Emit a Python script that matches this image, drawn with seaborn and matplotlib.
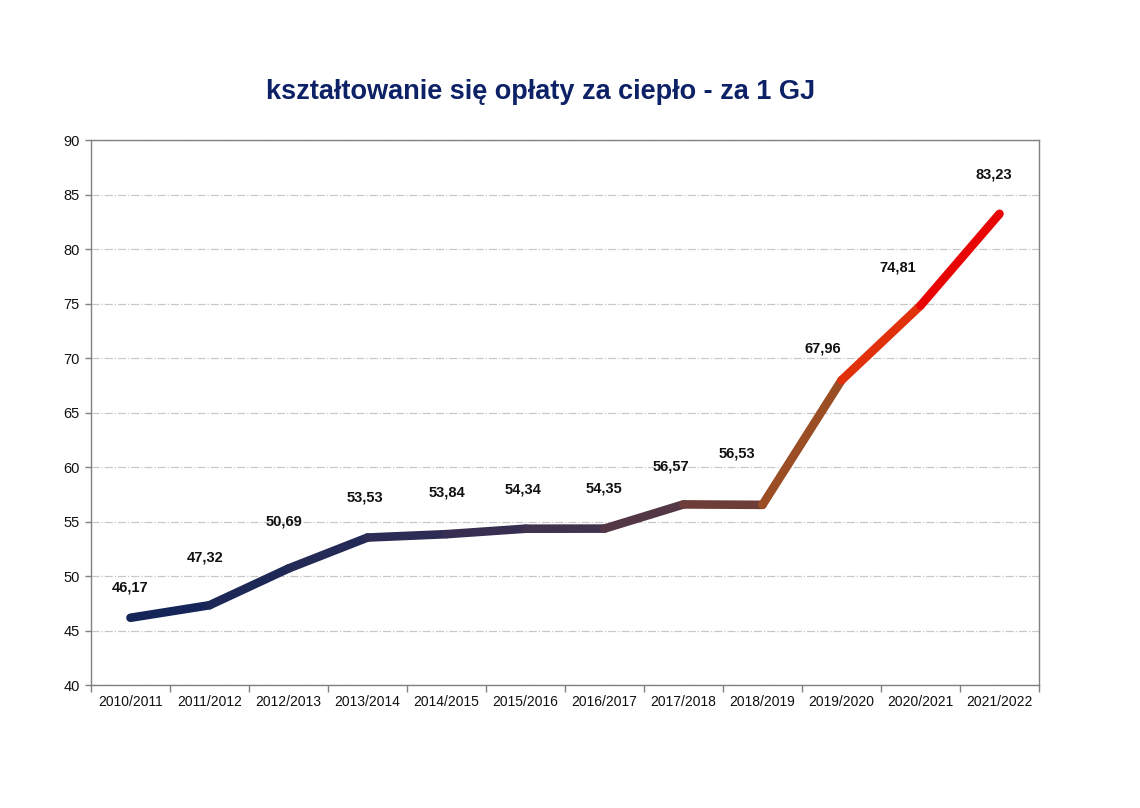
import numpy as np
import pandas as pd
import matplotlib
matplotlib.use('Agg')
import matplotlib.pyplot as plt
import seaborn as sns
from matplotlib.collections import LineCollection
from matplotlib.colors import LinearSegmentedColormap

# data
seasons = ['2010/2011', '2011/2012', '2012/2013', '2013/2014', '2014/2015', '2015/2016',
           '2016/2017', '2017/2018', '2018/2019', '2019/2020', '2020/2021', '2021/2022']
price = [46.17, 47.32, 50.69, 53.53, 53.84, 54.34, 54.35, 56.57, 56.53, 67.96, 74.81, 83.23]
labels = ['46,17', '47,32', '50,69', '53,53', '53,84', '54,34', '54,35', '56,57', '56,53',
          '67,96', '74,81', '83,23']

# label offsets in pixels (dx, dy)
label_dx = [0, -4, -5, -3, 0, -2, -1, -13, -26, -19, -23, -6]
label_dy = [30, 48, 47, 40, 42, 39, 40, 38, 51, 32, 38, 39]

df = pd.DataFrame({'season': seasons, 'price': price})
df['x'] = np.arange(len(df))

sns.set_style('white')
plt.rcParams['font.family'] = ['Liberation Sans', 'DejaVu Sans']

fig = plt.figure(figsize=(11.4, 8.08), dpi=100)
ax = fig.add_axes([0.0798, 0.1522, 0.8316, 0.6745])

# base line (hidden under gradient)
sns.lineplot(data=df, x='x', y='price', ax=ax, color='#132459', linewidth=0, legend=False)

# gradient colours along the line, one per segment
cmap = LinearSegmentedColormap.from_list('heat', [
    (0.0, '#132459'), (0.3, '#2a2c55'), (0.55, '#47334c'), (0.64, '#623b3e'),
    (0.73, '#7a422f'), (0.82, '#c05a18'), (0.91, '#ff0a00'), (1.0, '#d0000c')])
pts = df[['x', 'price']].to_numpy()
segs = np.stack([pts[:-1], pts[1:]], axis=1)
mids = (df['x'].to_numpy()[:-1] + 0.5) / (len(df) - 1)
lc = LineCollection(segs, colors=cmap(mids), linewidths=6.2, capstyle='round', joinstyle='round')
ax.add_collection(lc)

for xi, yi, t, dx, dy in zip(df['x'], price, labels, label_dx, label_dy):
    ax.annotate(t, (xi, yi), xytext=(dx, dy), textcoords='offset pixels',
                ha='center', va='center', fontsize=10.5, fontweight='bold', color='#111111')

ax.set_xlim(-0.5, len(df) - 0.5)
ax.set_ylim(40, 90)
ax.set_yticks(range(40, 91, 5))
ax.set_xticks(df['x'])
ax.set_xticklabels(seasons)
ax.set_xticks(np.arange(-0.5, len(df), 1), minor=True)
ax.tick_params(axis='x', which='major', length=0, pad=7, labelsize=10, labelcolor='#111111')
ax.tick_params(axis='x', which='minor', length=5, width=1, color='#808080', direction='out', bottom=True)
ax.tick_params(axis='y', length=4, width=1, color='#808080', direction='out', left=True,
               labelsize=10.5, labelcolor='#111111', pad=4)
ax.set_xlabel('')
ax.set_ylabel('')

ax.grid(axis='y', color='#c8c8c8', linestyle='-.', linewidth=0.9)
for s in ax.spines.values():
    s.set_color('#808080')
    s.set_linewidth(1)

fig.text(0.4746, 0.886, 'kształtowanie się opłaty za ciepło - za 1 GJ', ha='center', va='center',
         fontsize=19.5, fontweight='bold', color='#0d2266')

fig.savefig('out.png', dpi=100, facecolor='white')
